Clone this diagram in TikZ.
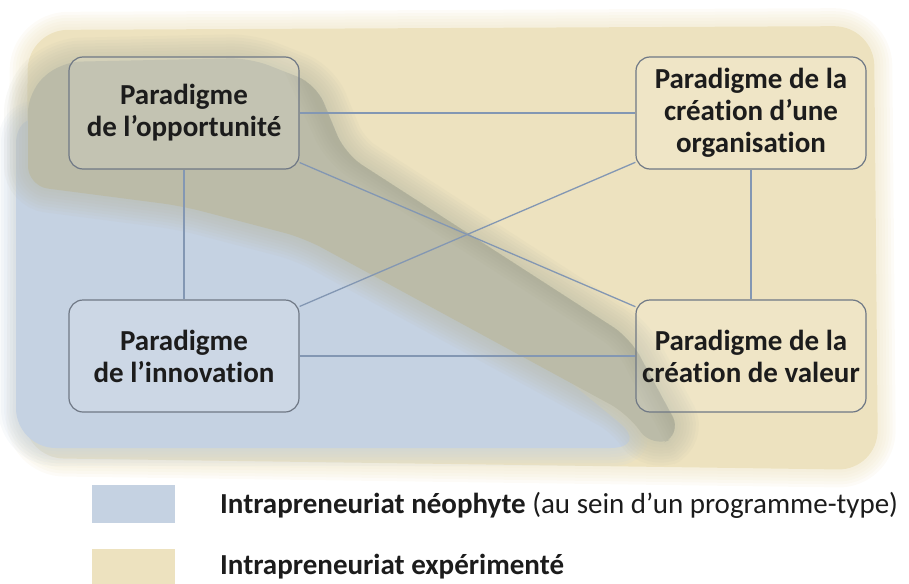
\documentclass[tikz,border=0pt]{standalone}
\usepackage{fontspec}
\setmainfont{Carlito}[Ligatures=NoCommon]
\usetikzlibrary{positioning}

\definecolor{neocol}{HTML}{C5D2E2}
\definecolor{expcol}{HTML}{EDE2BF}
\definecolor{shadowcol}{HTML}{BBBBA8}
\definecolor{rimcol}{HTML}{A8A893}
\definecolor{linkcol}{HTML}{8397B3}
\definecolor{boxline}{HTML}{6F7885}
\definecolor{ink}{HTML}{1C1C1C}

\def\expzone{(28,30) -- (874,26) -- (878,470) -- (24,458) -- cycle}
\def\neozone{(16,104) -- (16,448) -- (650,448) -- (470,300) -- (270,205) -- (120,160) -- cycle}
\def\shadowzone{(28,92) -- (60,62) -- (250,58) -- (316,84) -- (345,154) -- (630,338) -- (682,434) -- (652,448) -- (628,414) -- (304,238) -- (182,206) -- (28,186) -- cycle}
\def\rimline{(300,62) -- (340,150) -- (630,337) -- (680,432)}

\begin{document}
\begin{tikzpicture}[x=1pt,y=-1pt,node distance=243pt and 567pt,on grid,
    paradigm/.style={draw=boxline,line width=1.2pt,rounded corners=14pt,fill=white,fill opacity=0.12,text opacity=1,
      minimum width=230pt,minimum height=112pt,align=center,text=ink,font=\fontsize{29}{32}\selectfont\bfseries},
    link/.style={draw=linkcol,line width=1.3pt},
    legkey/.style={minimum width=83pt,minimum height=38pt,inner sep=0pt},
    legtext/.style={anchor=base west,inner sep=0pt,text=ink,font=\fontsize{29}{32}\selectfont}]
  \useasboundingbox (0,0) rectangle (909,583);
  \clip (0,0) rectangle (909,583);

  % zones
  \foreach \w in {6,12,...,36}
    \draw[expcol,line width=\w pt,opacity=0.12,rounded corners=40pt] \expzone;
  \fill[expcol,rounded corners=40pt] \expzone;
  \foreach \w in {6,12,...,36}
    \draw[neocol,line width=\w pt,opacity=0.12,rounded corners=40pt] \neozone;
  \fill[neocol,rounded corners=40pt] \neozone;
  \foreach \w in {6,12,...,48}
    \draw[shadowcol,line width=\w pt,opacity=0.09,rounded corners=20pt] \shadowzone;
  \fill[shadowcol,rounded corners=20pt] \shadowzone;
  \begin{scope}
    \clip[rounded corners=20pt] \shadowzone;
    \foreach \w in {6,12,...,36}
      \draw[rimcol,line width=\w pt,opacity=0.1,rounded corners=20pt,line cap=round] \rimline;
  \end{scope}

  \node[paradigm] (opp) at (184,113) {Paradigme\\de l’opportunité};
  \node[paradigm] (org) [right=of opp] {Paradigme de la\\création d’une\\organisation};
  \node[paradigm] (inn) [below=of opp] {Paradigme\\de l’innovation};
  \node[paradigm] (val) [right=of inn] {Paradigme de la\\création de valeur};

  \path[link]
    (opp) edge (org)
    (opp) edge (inn)
    (opp) edge (val)
    (inn) edge (org)
    (org) edge (val)
    (inn) edge (val);

  % legend
  \node[legkey,fill=neocol] (kneo) at (133.5,504) {};
  \node[legkey,fill=expcol] (kexp) at (133.5,568) {};
  \node[legtext] (tneo) at (220,513) {\textbf{Intrapreneuriat néophyte} (au sein d’un programme-type)};
  \node[legtext] (texp) at (220,574) {\textbf{Intrapreneuriat expérimenté}};
\end{tikzpicture}
\end{document}
